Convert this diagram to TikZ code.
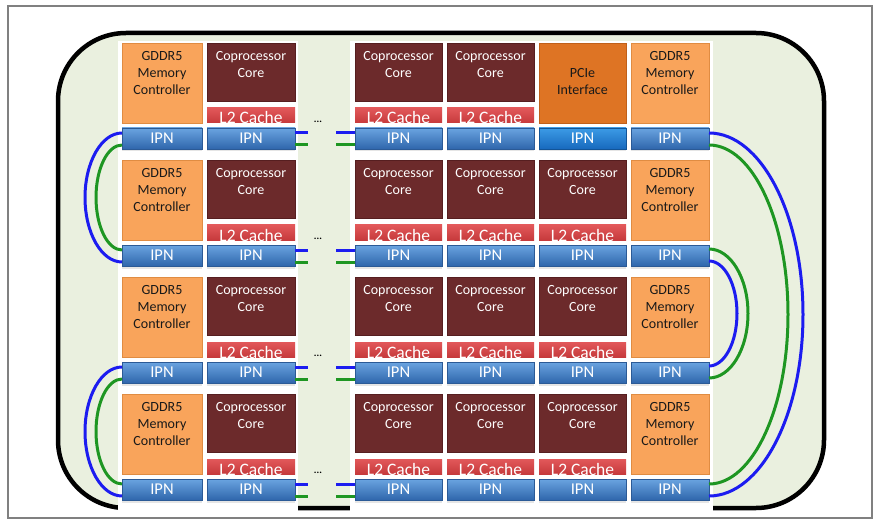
\documentclass[tikz,border=0pt]{standalone}
\usepackage{fontspec}
\setmainfont{Carlito}
\usetikzlibrary{calc,shadows}

\definecolor{diefill}{HTML}{EAF0DF}
\definecolor{gddrfill}{HTML}{F9A45B}
\definecolor{gddredge}{HTML}{E08C42}
\definecolor{pciefill}{HTML}{DE7424}
\definecolor{pcieedge}{HTML}{C0601A}
\definecolor{corefill}{HTML}{6C2A2B}
\definecolor{coreedge}{HTML}{561E20}
\definecolor{ltop}{HTML}{E2585A}
\definecolor{lbot}{HTML}{C63A3C}
\definecolor{itop}{HTML}{6AA4E0}
\definecolor{ibot}{HTML}{2F66AC}
\definecolor{iedge}{HTML}{2B5A96}
\definecolor{ptop}{HTML}{3C9BE6}
\definecolor{pbot}{HTML}{1769BD}
\definecolor{wireblue}{HTML}{1C1CF0}
\definecolor{wiregreen}{HTML}{1E9622}
\definecolor{framegray}{HTML}{808080}

\begin{document}
\begin{tikzpicture}[x=1pt,y=-1pt,
  blockbase/.style={anchor=north west, inner sep=0pt, outer sep=0pt},
  memory/.style={blockbase, fill=gddrfill, draw=gddredge, line width=0.6pt, minimum height=80pt},
  hostif/.style={blockbase, fill=pciefill, draw=pcieedge, line width=0.6pt, minimum height=80pt},
  core/.style={blockbase, fill=corefill, draw=coreedge, line width=0.6pt, minimum height=58pt},
  cache/.style={blockbase, top color=ltop, bottom color=lbot, minimum height=15pt},
  ipn/.style={blockbase, top color=itop, bottom color=ibot, draw=iedge, line width=0.6pt,
    minimum height=21pt, text=white, font=\fontsize{16.5}{18}\selectfont,
    drop shadow={opacity=0.2, shadow xshift=0pt, shadow yshift=-2.5pt}},
  hostipn/.style={top color=ptop, bottom color=pbot, draw=pbot!80!black},
  darktext/.style={inner sep=0pt, anchor=north, align=center, text=black!90,
    font=\fontsize{14}{17}\selectfont},
  lighttext/.style={darktext, text=white},
  cachetext/.style={inner sep=0pt, anchor=base, text=white, font=\fontsize{17.5}{20}\selectfont},
  wire/.style={line width=3pt},
  bluewire/.style={wire, draw=wireblue},
  greenwire/.style={wire, draw=wiregreen},
  dots/.style={inner sep=0pt, font=\bfseries\fontsize{10}{11}\selectfont}
]
\useasboundingbox (0,0) rectangle (879,524);

% outer frame and die outline
\draw[framegray, line width=1.5pt] (8,6) rectangle (872,518);
\draw[line width=4.5pt, fill=diefill, rounded corners=68pt] (58,33) rectangle (824,508);

% white tile panels
\fill[white] (118,41) rectangle (298,512);
\fill[white] (350,41) rectangle (713,512);

% tiles: four rows of six columns
\foreach \r [evaluate=\r as \t using 43+117*\r] in {0,1,2,3} {
  \foreach \c/\x/\w in {1/122/80,2/207/88,3/355/87,4/447/87,5/539/87,6/631/78} {
    \def\kind{1}
    \ifnum\c=1 \def\kind{0}\fi
    \ifnum\c=6 \def\kind{0}\fi
    \ifnum\r=0 \ifnum\c=5 \def\kind{2}\fi\fi
    \ifcase\kind
      \node[memory, minimum width=\w*1pt] (mem-\r-\c) at (\x,\t) {};
      \node[darktext] (mem-\r-\c-label) at ([yshift=-8pt]mem-\r-\c.north) {GDDR5\\Memory\\Controller};
    \or
      \node[core, minimum width=\w*1pt] (core-\r-\c) at (\x,\t) {};
      \node[lighttext] (core-\r-\c-label) at ([yshift=-8pt]core-\r-\c.north) {Coprocessor\\Core};
      \begin{scope}
        \clip (\x,\t+65) rectangle ++(\w,15);
        \node[cache, minimum width=\w*1pt] (l2-\r-\c) at (\x,\t+65) {};
        \node[cachetext] (l2-\r-\c-label) at ([yshift=-1pt]l2-\r-\c.south) {L2 Cache};
      \end{scope}
    \or
      \node[hostif, minimum width=\w*1pt] (pcie) at (\x,\t) {};
      \node[darktext] (pcie-label) at ([yshift=-25pt]pcie.north) {PCIe\\Interface};
    \fi
    \ifnum\kind=2
      \node[ipn, hostipn, minimum width=\w*1pt] (ipn-\r-\c) at (\x,\t+85) {IPN};
    \else
      \node[ipn, minimum width=\w*1pt] (ipn-\r-\c) at (\x,\t+85) {IPN};
    \fi
  }
}

% ring stubs across the elided columns
\foreach \r [evaluate=\r as \t using 43+117*\r] in {0,1,2,3} {
  \node[dots] (gap-\r) at (318,\t+79) {...};
  \draw[bluewire]  ([yshift=-5pt]ipn-\r-2.north east) -- ++(13,0);
  \draw[greenwire] ([yshift=-17pt]ipn-\r-2.north east) -- ++(13,0);
  \draw[bluewire]  ([yshift=-5pt]ipn-\r-3.north west) -- ++(-19,0);
  \draw[greenwire] ([yshift=-17pt]ipn-\r-3.north west) -- ++(-19,0);
}

% left-hand ring turns (half ellipses)
\draw[bluewire] ([yshift=-5pt]ipn-0-1.north west) .. controls (101.6,133) and (85,161.9) .. (85,197.5)
  .. controls (85,233.1) and (101.6,262) .. ([yshift=-17pt]ipn-1-1.north west);
\draw[greenwire] ([yshift=-17pt]ipn-0-1.north west) .. controls (107.6,145) and (96,168.5) .. (96,197.5)
  .. controls (96,226.5) and (107.6,250) .. ([yshift=-5pt]ipn-1-1.north west);
\draw[bluewire] ([yshift=-5pt]ipn-2-1.north west) .. controls (101.6,367) and (85,395.9) .. (85,431.5)
  .. controls (85,467.1) and (101.6,496) .. ([yshift=-17pt]ipn-3-1.north west);
\draw[greenwire] ([yshift=-17pt]ipn-2-1.north west) .. controls (107.6,379) and (96,402.5) .. (96,431.5)
  .. controls (96,460.5) and (107.6,484) .. ([yshift=-5pt]ipn-3-1.north west);

% right-hand ring turns (half ellipses)
\draw[bluewire] ([yshift=-5pt]ipn-0-6.north east) .. controls (760.9,133) and (803,214.3) .. (803,314.5)
  .. controls (803,414.7) and (760.9,496) .. ([yshift=-17pt]ipn-3-6.north east);
\draw[greenwire] ([yshift=-17pt]ipn-0-6.north east) .. controls (752.6,145) and (788,220.9) .. (788,314.5)
  .. controls (788,408.1) and (752.6,484) .. ([yshift=-5pt]ipn-3-6.north east);
\draw[greenwire] ([yshift=-4pt]ipn-1-6.north east) .. controls (730.5,249) and (748,277.9) .. (748,313.5)
  .. controls (748,349.1) and (730.5,378) .. ([yshift=-16pt]ipn-2-6.north east);
\draw[bluewire] ([yshift=-16pt]ipn-1-6.north east) .. controls (724.5,261) and (737,284.5) .. (737,313.5)
  .. controls (737,342.5) and (724.5,366) .. ([yshift=-4pt]ipn-2-6.north east);
\end{tikzpicture}
\end{document}
